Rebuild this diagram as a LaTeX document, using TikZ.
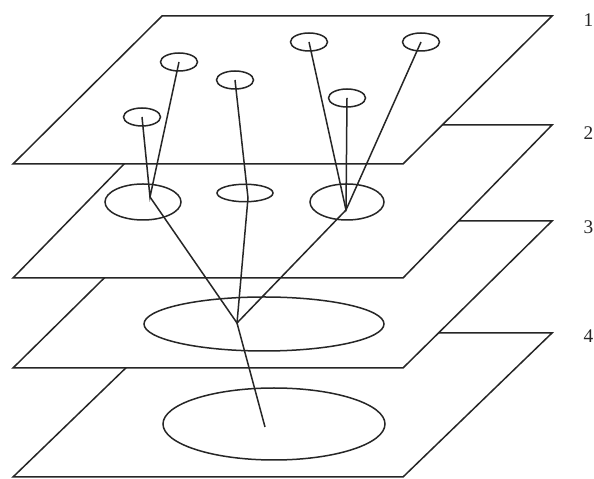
\documentclass[tikz,border=0pt]{standalone}
\usepackage{fontspec}
\setmainfont{Liberation Serif}
\usepackage{tikz}
\usetikzlibrary{shapes.geometric}

\begin{document}
\begin{tikzpicture}[
  x=0.2mm, y=-0.2mm,
  color=black!85,
  line width=0.3mm,
  plane/.style={draw, fill=white, line join=miter},
  hole/.style={ellipse, draw, inner sep=0pt},
  small/.style={hole, minimum width=7.4mm, minimum height=3.6mm},
  levelnum/.style={anchor=east, inner sep=0pt, font=\fontsize{11}{13}\selectfont},
]
\useasboundingbox (0,0) rectangle (594,479);
\foreach \t/\b/\n/\ly in {333/477/4/336, 221/368/3/227, 125/278/2/133, 16/164/1/20} {
  \draw[plane] (13,\b) -- (403,\b) -- (552,\t) -- (162,\t) -- cycle;
  \node[levelnum] (num\n) at (594,\ly) {\n};
}
\node[small] (a) at (142,117) {};
\node[small] (b) at (179,62) {};
\node[small] (c) at (235,80) {};
\node[small] (d) at (309,42) {};
\node[small] (e) at (421,42) {};
\node[small] (f) at (347,98) {};
\node[hole,minimum width=15.2mm,minimum height=7.2mm] (left) at (143,202) {};
\node[hole,minimum width=11.2mm,minimum height=3.5mm] (mid) at (245,193) {};
\node[hole,minimum width=14.8mm,minimum height=7.2mm] (right) at (347,202) {};
\node[hole,minimum width=48mm,minimum height=10.8mm] (wide) at (264,324) {};
\node[hole,minimum width=44.4mm,minimum height=14.4mm] (base) at (274,424) {};
\coordinate (jl) at (150,197);
\coordinate (jm) at (248,198);
\coordinate (jr) at (346,210);
\coordinate (jt) at (237,323);
\coordinate (jb) at (265,427);
\draw (a.center) -- (jl) -- (b.center);
\draw (c.center) -- (jm) -- (jt);
\draw (d.center) -- (jr) -- (e.center);
\draw (f.center) -- (jr);
\draw (jl) -- (jt) -- (jr);
\draw (jt) -- (jb);
\end{tikzpicture}
\end{document}
